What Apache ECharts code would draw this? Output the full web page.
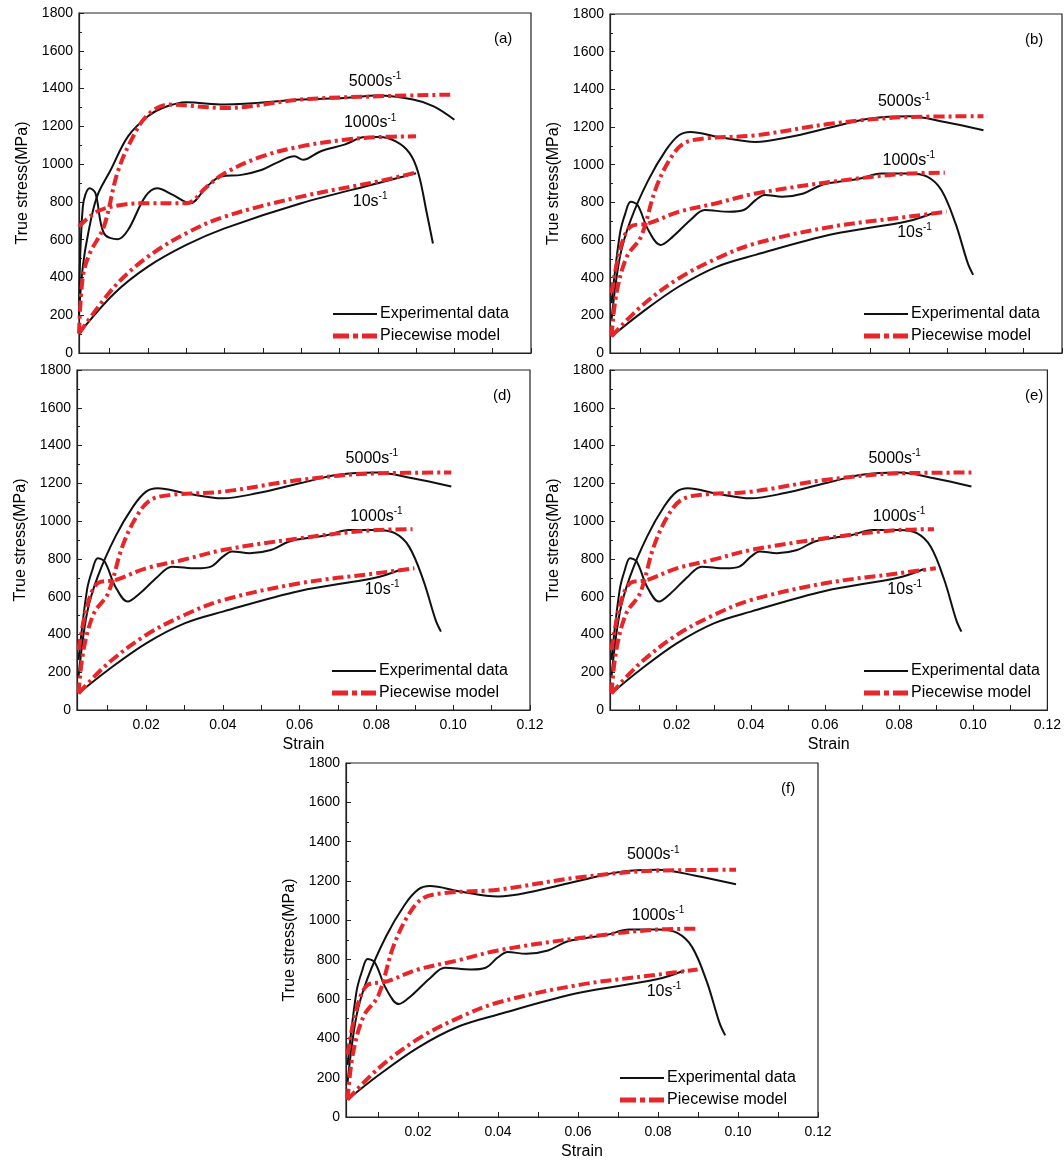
<!DOCTYPE html>
<html><head><meta charset="utf-8">
<script src="https://cdn.jsdelivr.net/npm/echarts@6/dist/echarts.min.js"></script>
<style>html,body{margin:0;padding:0;background:#fff}#c{width:1064px;height:1162px}</style>
</head><body><div id="c"></div>
<script>
// Panel (a) data [strain, stress MPa]
const aExp10 = [[0.002,103],[0.0112,315],[0.02,457],[0.030,572],[0.04,660],[0.06,793],[0.08,899],[0.090,952]];
const aMod10 = [[0.002,103],[0.0112,350],[0.02,510],[0.030,634],[0.04,722],[0.06,828],[0.08,908],[0.090,956]];
const aExp1000 = [[0.002,191],[0.003,775],[0.0048,872],[0.0063,846],[0.0085,634],[0.0121,602],[0.0148,651],[0.0193,828],[0.0224,872],[0.0265,837],[0.031,793],[0.0354,881],[0.039,934],[0.0444,943],[0.0498,970],[0.0534,1005],[0.0583,1041],[0.0605,1023],[0.065,1067],[0.0713,1103],[0.0767,1143],[0.0803,1143],[0.0847,1120],[0.0883,1058],[0.0906,952],[0.0928,740],[0.0944,580]];
const aMod1000 = [[0.002,669],[0.0067,749],[0.013,784],[0.02,793],[0.030,793],[0.0354,881],[0.04,952],[0.0498,1041],[0.06,1094],[0.0713,1129],[0.08,1143],[0.090,1147]];
const aExp5000 = [[0.002,209],[0.003,457],[0.0044,634],[0.0067,828],[0.0103,970],[0.0148,1147],[0.02,1253],[0.0238,1297],[0.030,1327],[0.04,1315],[0.06,1342],[0.0713,1350],[0.08,1363],[0.0892,1342],[0.0946,1306],[0.10,1235]];
const aMod5000 = [[0.002,103],[0.003,404],[0.0048,527],[0.0085,669],[0.012,952],[0.0157,1129],[0.02,1262],[0.0256,1315],[0.04,1297],[0.06,1342],[0.08,1359],[0.10,1368]];
// Panels (b),(d),(e),(f) data
const bExp10 = [[0.0024,88],[0.0101,212],[0.02,353],[0.030,459],[0.04,521],[0.06,630],[0.0797,700],[0.0866,745]];
const bMod10 = [[0.0024,88],[0.0101,247],[0.02,397],[0.030,503],[0.04,582],[0.06,671],[0.08,724],[0.0899,750]];
const bExp1000 = [[0.0024,265],[0.0046,635],[0.006,741],[0.0074,803],[0.0092,786],[0.012,653],[0.0152,574],[0.0184,618],[0.023,706],[0.0267,759],[0.0332,750],[0.0369,759],[0.04,812],[0.0424,839],[0.047,830],[0.0525,847],[0.0571,891],[0.0617,909],[0.0673,927],[0.0728,953],[0.08,953],[0.0848,936],[0.0885,865],[0.0922,688],[0.0954,477],[0.0968,415]];
const bMod1000 = [[0.0024,318],[0.0046,547],[0.0074,671],[0.012,688],[0.02,750],[0.0295,794],[0.04,847],[0.06,909],[0.08,953],[0.0894,957]];
const bExp5000 = [[0.0024,177],[0.0046,512],[0.0074,706],[0.012,918],[0.0166,1077],[0.02,1156],[0.023,1174],[0.0304,1147],[0.04,1121],[0.0488,1147],[0.06,1200],[0.070,1245],[0.08,1257],[0.0894,1227],[0.0995,1183]];
const bMod5000 = [[0.0024,88],[0.0037,318],[0.0064,512],[0.0101,618],[0.0138,865],[0.0175,1024],[0.0212,1112],[0.0267,1139],[0.04,1156],[0.06,1218],[0.08,1253],[0.0995,1257]];
const xLabels = [0.02,0.04,0.06,0.08,0.10,0.12];
const xTicks = [0.01,0.02,0.03,0.04,0.05,0.06,0.07,0.08,0.09,0.10,0.11,0.12];
const aRateLabels = [['5000',0.0793,1439],['1000',0.078,1218],['10',0.078,802]];
const bRateLabels = [['5000',0.0788,1333],['1000',0.080,1024],['10',0.0815,640]];

const panels = [
 {tag:'(a)', l:79, t:13, w:452, h:340, xl:false, d:[aExp10,aMod10,aExp1000,aMod1000,aExp5000,aMod5000], rl:aRateLabels},
 {tag:'(b)', l:610, t:14, w:452, h:339, xl:false, d:[bExp10,bMod10,bExp1000,bMod1000,bExp5000,bMod5000], rl:bRateLabels},
 {tag:'(d)', l:77, t:370, w:453, h:340, xl:true, d:[bExp10,bMod10,bExp1000,bMod1000,bExp5000,bMod5000], rl:bRateLabels},
 {tag:'(e)', l:610, t:370, w:452, h:340, xl:true, d:[bExp10,bMod10,bExp1000,bMod1000,bExp5000,bMod5000], rl:bRateLabels},
 {tag:'(f)', l:346, t:763, w:472, h:354, xl:true, d:[bExp10,bMod10,bExp1000,bMod1000,bExp5000,bMod5000], rl:bRateLabels}
];
const FONT = 'Liberation Sans';
const grid=[], xAxis=[], yAxis=[], series=[], legend=[], graphic=[];
const solidIcon='path://M0,0H44V2.2H0Z';
const ddIcon='path://M0,0H16V5H0Z M20,0H25V5H20Z M29,0H44V5H29Z';
panels.forEach((p,i)=>{
  grid.push({left:p.l, top:p.t, width:p.w, height:p.h, show:true, borderColor:'#222', borderWidth:1.2, backgroundColor:'transparent'});
  xAxis.push({type:'value', gridIndex:i, min:0.002, max:0.12,
    name:p.xl?'Strain':'', nameLocation:'middle', nameGap:27, nameTextStyle:{fontFamily:FONT,fontSize:16,color:'#000'},
    axisLine:{lineStyle:{color:'#222',width:1.2}}, splitLine:{show:false},
    axisTick:{inside:true,length:5,customValues:xTicks,lineStyle:{color:'#222'}},
    axisLabel:{show:p.xl, customValues:xLabels, formatter:v=>v.toFixed(2), fontFamily:FONT, fontSize:14, color:'#000', margin:8}});
  yAxis.push({type:'value', gridIndex:i, min:0, max:1800, interval:200,
    name:'True stress(MPa)', nameLocation:'middle', nameGap:48, nameTextStyle:{fontFamily:FONT,fontSize:16,color:'#000'},
    axisLine:{show:true,lineStyle:{color:'#222',width:1.2}}, splitLine:{show:false},
    axisTick:{inside:true,length:5,lineStyle:{color:'#222'}},
    minorTick:{show:true,splitNumber:2,length:3,lineStyle:{color:'#222'}},
    axisLabel:{formatter:v=>String(v),fontFamily:FONT,fontSize:14,color:'#000',margin:6}});
  p.d.forEach((arr,k)=>{
    const model = k%2===1;
    const s={type:'line', xAxisIndex:i, yAxisIndex:i, data:arr, showSymbol:false, smooth:0.35, silent:true,
      name: model?'Piecewise model':'Experimental data', z: model?3:2,
      lineStyle: model?{color:'#e8262a',width:4,type:[11,4,3,4]}:{color:'#111',width:2},
      itemStyle:{color: model?'#e8262a':'#111'}};
    if(k===0){
      s.markPoint={symbol:'circle',symbolSize:0,silent:true,data:p.rl.map(r=>({coord:[r[1],r[2]],
        label:{show:true,position:'inside',formatter:'{n|'+r[0]+'s}{s|-1}',
          rich:{n:{fontFamily:FONT,fontSize:16,color:'#000'},s:{fontFamily:FONT,fontSize:10,color:'#000',verticalAlign:'top',padding:[0,0,10,0]}}}}))};
    }
    series.push(s);
  });
  legend.push({left:p.l+p.w-203, top:p.t+p.h-52, orient:'vertical', itemGap:6, itemWidth:44, itemHeight:5,
    data:[{name:'Experimental data',icon:solidIcon},{name:'Piecewise model',icon:ddIcon}],
    textStyle:{fontFamily:FONT,fontSize:16,color:'#000',padding:[0,0,0,-2]}, selectedMode:false});
  graphic.push({type:'text', left:p.l+p.w-37, top:p.t+18, style:{text:p.tag, font:'15px '+FONT, fill:'#000'}});
});
const chart=echarts.init(document.getElementById('c'),null,{renderer:'canvas'});
chart.setOption({animation:false, backgroundColor:'#fff', grid, xAxis, yAxis, series, legend, graphic});
</script></body></html>
